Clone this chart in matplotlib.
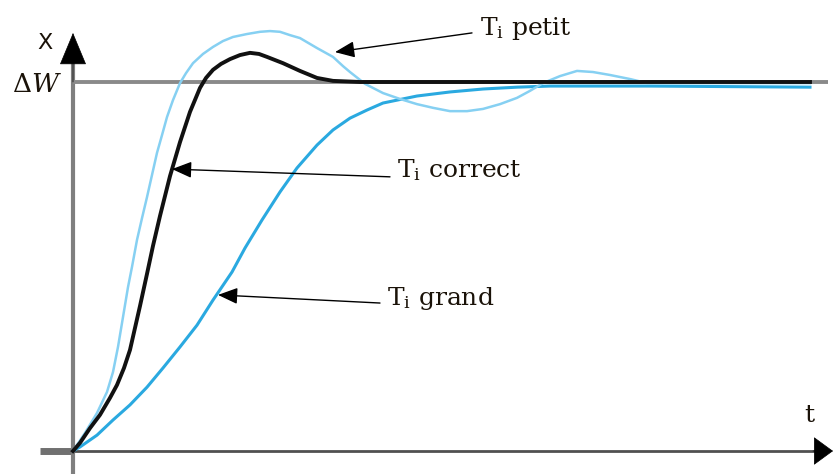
import matplotlib
matplotlib.use('Agg')
import matplotlib.pyplot as plt

# step responses, t in s, x normalised to the set point (dW = 1)
t_correct = [0, 0.07, 0.17, 0.27, 0.37, 0.44, 0.51, 0.57, 0.67, 0.74, 0.80, 0.87, 0.97,
             1.07, 1.17, 1.27, 1.33, 1.40, 1.48, 1.57, 1.67, 1.77, 1.86, 1.94, 2.10,
             2.27, 2.44, 2.60, 2.87, 7.37]
x_correct = [0, 0.022, 0.062, 0.098, 0.144, 0.179, 0.225, 0.274, 0.393, 0.480, 0.556, 0.637, 0.745,
             0.837, 0.919, 0.984, 1.011, 1.033, 1.049, 1.062, 1.073, 1.079, 1.076, 1.068, 1.051,
             1.030, 1.011, 1.003, 1.000, 1.000]

t_petit = [0, 0.12, 0.24, 0.34, 0.40, 0.45, 0.50, 0.55, 0.59, 0.64, 0.69, 0.74, 0.79,
           0.84, 0.89, 0.94, 1.00, 1.07, 1.13, 1.20, 1.30, 1.40, 1.50, 1.60, 1.74,
           1.87, 1.97, 2.07, 2.17, 2.27, 2.44, 2.60, 2.70, 2.77, 2.92, 3.10, 3.27,
           3.44, 3.60, 3.77, 3.94, 4.10, 4.27, 4.44, 4.57, 4.70, 4.87, 5.04, 5.20,
           5.37, 5.57, 5.74, 6.27, 7.37]
x_petit = [0, 0.049, 0.103, 0.160, 0.214, 0.282, 0.363, 0.444, 0.499, 0.572, 0.631, 0.688, 0.748,
           0.808, 0.856, 0.905, 0.951, 0.997, 1.024, 1.051, 1.076, 1.095, 1.111, 1.122, 1.130,
           1.136, 1.138, 1.136, 1.127, 1.119, 1.092, 1.068, 1.043, 1.027, 0.995, 0.970, 0.954,
           0.940, 0.930, 0.921, 0.921, 0.927, 0.940, 0.957, 0.976, 0.997, 1.016, 1.030, 1.027,
           1.019, 1.008, 0.997, 0.997, 0.997]

t_grand = [0, 0.07, 0.24, 0.40, 0.57, 0.74, 0.90, 1.07, 1.24, 1.40, 1.59, 1.72, 1.89,
           2.07, 2.24, 2.44, 2.60, 2.77, 2.94, 3.10, 3.44, 3.77, 4.10, 4.44, 4.77,
           5.77, 7.37]
x_grand = [0, 0.011, 0.043, 0.084, 0.125, 0.173, 0.225, 0.282, 0.341, 0.409, 0.485, 0.550, 0.626,
           0.702, 0.767, 0.829, 0.870, 0.902, 0.924, 0.943, 0.962, 0.973, 0.981, 0.986, 0.989,
           0.989, 0.986]

setpoint = 1.0

# label text, arrow tip, arrow tail, text position
labels = [
    (r'T$_{\rm i}$ petit', (2.62, 1.081), (3.99, 1.133), (4.07, 1.127)),
    (r'T$_{\rm i}$ correct', (0.99, 0.764), (3.17, 0.743), (3.24, 0.743)),
    (r'T$_{\rm i}$ grand', (1.45, 0.423), (3.07, 0.401), (3.14, 0.396)),
]

plt.rcParams['font.family'] = 'DejaVu Serif'
plt.rcParams['mathtext.fontset'] = 'dejavuserif'

fig = plt.figure(figsize=(8.33, 4.74), dpi=100)
ax = fig.add_axes([0, 0, 1, 1])
ax.set_xlim(-0.73, 7.60)
ax.set_ylim(-0.0623, 1.2222)
ax.axis('off')

# axes drawn by hand
ax.plot([-0.33, 0], [0, 0], color='#707070', lw=5, solid_capstyle='butt')
ax.plot([0, 7.45], [0, 0], color='#505050', lw=2, solid_capstyle='butt')
ax.annotate('', xy=(7.60, 0), xytext=(7.40, 0),
            arrowprops=dict(arrowstyle='-|>,head_length=1.3,head_width=0.95',
                            fc='k', ec='k', lw=0.5, shrinkA=0, shrinkB=0, mutation_scale=10))
ax.plot([0, 0], [-0.0623, 1.06], color='#7f7f7f', lw=3, solid_capstyle='butt')
ax.annotate('', xy=(0, 1.133), xytext=(0, 1.0),
            arrowprops=dict(arrowstyle='-|>,head_length=2.16,head_width=0.9',
                            fc='k', ec='k', lw=0.5, shrinkA=0, shrinkB=0, mutation_scale=10))
ax.plot([0, 7.55], [setpoint, setpoint], color='#8a8a8a', lw=2.8, solid_capstyle='butt')

ax.plot(t_grand, x_grand, color='#2aa9e0', lw=2.2, solid_joinstyle='round')
ax.plot(t_petit, x_petit, color='#86d0f2', lw=1.8, solid_joinstyle='round')
ax.plot(t_correct, x_correct, color='#111111', lw=2.8, solid_joinstyle='round')

for txt, tip, tail, pos in labels:
    ax.annotate('', xy=tip, xytext=tail,
                arrowprops=dict(arrowstyle='-|>,head_length=1.2,head_width=0.5',
                                fc='k', ec='k', lw=1.0, shrinkA=0, shrinkB=0, mutation_scale=10))
    ax.text(pos[0], pos[1], txt, fontsize=18, ha='left', va='baseline', color='#1a1208')

ax.text(-0.28, 1.105, 'X', fontsize=16, ha='center', va='center', family='DejaVu Sans', color='#1a1208')
ax.text(-0.36, 0.992, r'$\Delta W$', fontsize=19, ha='center', va='center', color='#1a1208')
ax.text(7.36, 0.095, 't', fontsize=18, ha='center', va='center', color='#1a1208')

fig.savefig('out.png', dpi=100)
